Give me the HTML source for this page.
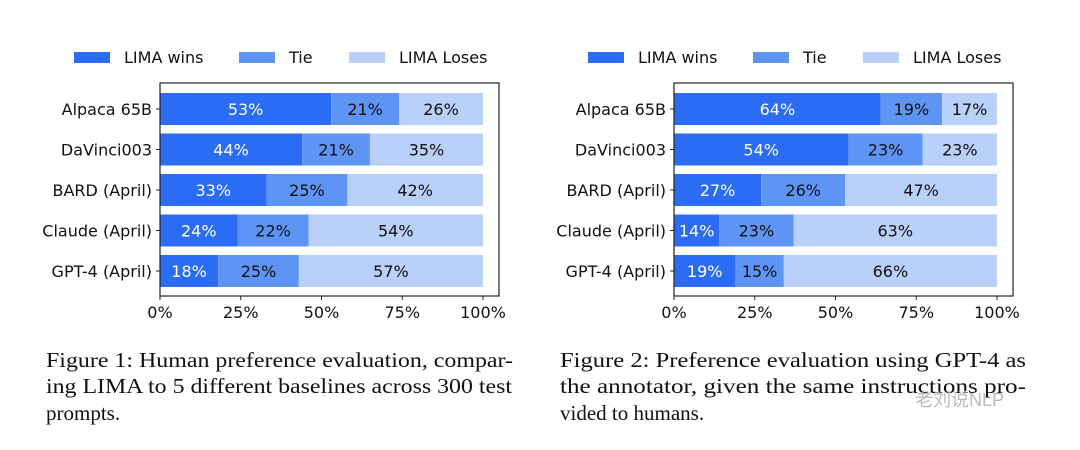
<!DOCTYPE html>
<html><head><meta charset="utf-8">
<style>
html,body{margin:0;padding:0;background:#fff;}
svg{display:block;}
.lab{font-family:"DejaVu Sans","Liberation Sans",sans-serif;font-size:16px;fill:#111;}
.cap{font-family:"Liberation Serif",serif;font-size:21px;fill:#111;}
</style></head>
<body>
<svg id="root" width="1080" height="450" viewBox="0 0 1080 450" xmlns="http://www.w3.org/2000/svg">
<text class="cap" x="46" y="367" textLength="467" lengthAdjust="spacingAndGlyphs">Figure 1: Human preference evaluation, compar-</text>
<text class="cap" x="46" y="393" textLength="466" lengthAdjust="spacingAndGlyphs">ing LIMA to 5 different baselines across 300 test</text>
<text class="cap" x="46" y="420">prompts.</text>
<text class="cap" x="560" y="367" textLength="466" lengthAdjust="spacingAndGlyphs">Figure 2: Preference evaluation using GPT-4 as</text>
<text class="cap" x="560" y="393" textLength="466" lengthAdjust="spacingAndGlyphs">the annotator, given the same instructions pro-</text>
<text class="cap" x="560" y="420">vided to humans.</text>
<text x="915" y="406" style="font-family:'Liberation Sans','Noto Sans CJK SC',sans-serif;font-size:18px;fill:#bbb">老刘说NLP</text>
</svg>
<script>
const categories = ["Alpaca 65B","DaVinci003","BARD (April)","Claude (April)","GPT-4 (April)"];
const seriesNames = ["LIMA wins","Tie","LIMA Loses"];
const winsA = [53,44,33,24,18];
const tieA = [21,21,25,22,25];
const losesA = [26,35,42,54,57];
const winsB = [64,54,27,14,19];
const tieB = [19,23,26,23,15];
const losesB = [17,23,47,63,66];
const tickValues = [0,25,50,75,100];
const tickLabels = ["0%","25%","50%","75%","100%"];

const NS="http://www.w3.org/2000/svg";
const root=document.getElementById('root');
const colors=["#2b6cf5","#5e95f5","#b9d0f9"];
const textColors=["#fff","#111","#111"];
function mk(tag,attrs,parent){const e=document.createElementNS(NS,tag);for(const k in attrs)e.setAttribute(k,attrs[k]);(parent||root).appendChild(e);return e;}

function drawChart(ox,series,id){
  const x0=ox+160, x1=ox+483, frameR=ox+499, top=83, bot=296;
  const xs=v=>x0+(x1-x0)*v/100;
  const ys=i=>93+i*40.5;
  const bh=32;
  const g=mk('g',{});
  
  
  const lx=[ox+74,ox+239,ox+349];
  seriesNames.forEach((n,k)=>{
    const r=mk('rect',{x:lx[k],y:52,width:36,height:11,fill:colors[k]},g);
    
    
    const t=mk('text',{x:lx[k]+50,y:63,class:'lab'},g);t.textContent=n;
    
    
  });
  categories.forEach((c,i)=>{
    let acc=0;
    series.forEach((arr,k)=>{
      const v=arr[i];
      const r=mk('rect',{x:xs(acc),y:ys(i),width:xs(acc+v)-xs(acc),height:bh,fill:colors[k]},g);
      
      
      const t=mk('text',{x:(xs(acc)+xs(acc+v))/2,y:ys(i)+bh/2+6,'text-anchor':'middle',class:'lab',style:'fill:'+textColors[k]},g);
      t.textContent=v+'%';
      
      
      acc+=v;
    });
    const yt=ys(i)+bh/2;
    mk('line',{x1:x0-4,x2:x0,y1:yt,y2:yt,stroke:'#222','stroke-width':1},g);
    const t=mk('text',{x:x0-8,y:yt+6,'text-anchor':'end',class:'lab'},g);t.textContent=c;
    
    
  });
  const f=mk('rect',{x:x0,y:top,width:frameR-x0,height:bot-top,fill:'none',stroke:'#222','stroke-width':1.2},g);
  
  
  tickValues.forEach((v,j)=>{
    mk('line',{x1:xs(v),x2:xs(v),y1:bot,y2:bot+4,stroke:'#222','stroke-width':1},g);
    const t=mk('text',{x:xs(v),y:bot+22,'text-anchor':'middle',class:'lab'},g);t.textContent=tickLabels[j];
    
    
  });
}
drawChart(0,[winsA,tieA,losesA],'chart-human-preference');
drawChart(514,[winsB,tieB,losesB],'chart-gpt4-preference');
</script>
</body></html>
